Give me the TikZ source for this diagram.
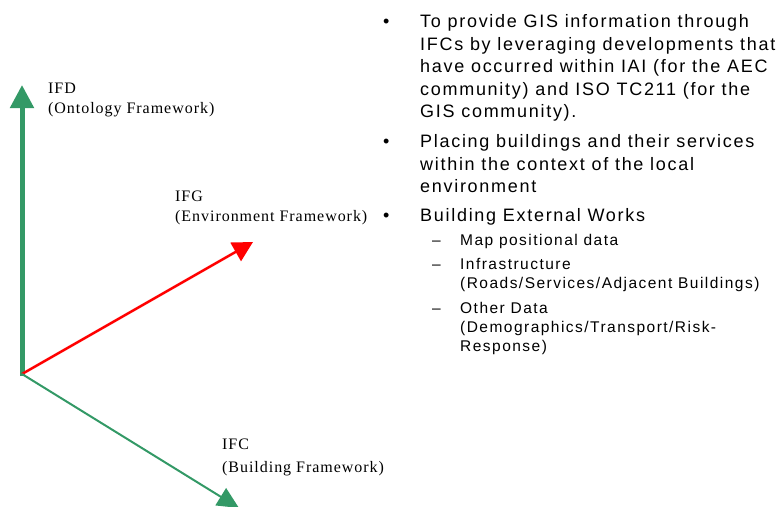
\documentclass[tikz,border=0pt]{standalone}
\usepackage{fontspec}
\setmainfont{Liberation Serif}
\newfontfamily\labelfont[LetterSpace=6]{Liberation Serif}
\newfontfamily\listfont[LetterSpace=9.5]{Liberation Sans}
\newfontfamily\subfont[LetterSpace=9.5]{Liberation Sans}
\usetikzlibrary{arrows.meta}
\definecolor{axisgreen}{RGB}{51,153,102}
\definecolor{axisred}{RGB}{255,0,0}

\tikzset{
  axislabel/.style={anchor=base west, inner sep=0pt, font=\labelfont\fontsize{16}{20}\selectfont},
  listline/.style={anchor=base west, inner sep=0pt, font=\listfont\fontsize{18}{22}\selectfont},
  subline/.style={anchor=base west, inner sep=0pt, font=\subfont\fontsize{15.5}{19}\selectfont},
  bulletmark/.style={anchor=base west, inner sep=0pt, font=\listfont\fontsize{18}{22}\selectfont},
  dashmark/.style={anchor=base west, inner sep=0pt, font=\subfont\fontsize{15.5}{19}\selectfont},
  ontoaxis/.style={draw=axisgreen, line width=5pt, -{Triangle[length=23pt, width=23pt]}},
  envaxis/.style={draw=axisred, line width=2.5pt, -{Triangle[length=20pt, width=21pt]}},
  bldaxis/.style={draw=axisgreen, line width=2pt, -{Triangle[length=21.5pt, width=20pt]}},
}

\begin{document}
\begin{tikzpicture}[x=1pt, y=-1pt]
  \useasboundingbox (0,0) rectangle (779,506);
  \clip (0,0) rectangle (779,506);

  % axes from the common origin
  \coordinate (origin) at (22,374);
  \coordinate (ifdtip) at (22,85);
  \coordinate (ifgtip) at (253,242);
  \coordinate (ifctip) at (239,508);
  \draw[ontoaxis] (22,376) -- (ifdtip);
  \draw[envaxis] (origin) -- (ifgtip);
  \draw[bldaxis] (origin) -- (ifctip);

  % axis labels
  \node[axislabel] (ifd1) at (48,93) {IFD};
  \node[axislabel] (ifd2) at (48,113) {(Ontology Framework)};
  \node[axislabel] (ifg1) at (175,201) {IFG};
  \node[axislabel] (ifg2) at (175,221) {(Environment Framework)};
  \node[axislabel] (ifc1) at (222,449) {IFC};
  \node[axislabel] (ifc2) at (222,472) {(Building Framework)};

  % bullet list
  \node[bulletmark] (bul1) at (383,27.5) {•};
  \node[listline] (a1) at (420,27.5) {To provide GIS information through};
  \node[listline] (a2) at (420,50) {IFCs by leveraging developments that};
  \node[listline] (a3) at (420,72.5) {have occurred within IAI (for the AEC};
  \node[listline] (a4) at (420,95) {community) and ISO TC211 (for the};
  \node[listline] (a5) at (420,117.5) {GIS community).};

  \node[bulletmark] (bul2) at (383,147.5) {•};
  \node[listline] (b1) at (420,147.5) {Placing buildings and their services};
  \node[listline] (b2) at (420,170) {within the context of the local};
  \node[listline] (b3) at (420,192.5) {environment};

  \node[bulletmark] (bul3) at (383,221.5) {•};
  \node[listline] (c1) at (420,221.5) {Building External Works};

  \node[dashmark] (dash1) at (432,245.5) {–};
  \node[subline] (s1) at (460,245.5) {Map positional data};
  \node[dashmark] (dash2) at (432,269.5) {–};
  \node[subline] (s2) at (460,269.5) {Infrastructure};
  \node[subline] (s3) at (460,288.5) {(Roads/Services/Adjacent Buildings)};
  \node[dashmark] (dash3) at (432,313.5) {–};
  \node[subline] (s4) at (460,313.5) {Other Data};
  \node[subline] (s5) at (460,332.5) {(Demographics/Transport/Risk-};
  \node[subline] (s6) at (460,351.5) {Response)};
\end{tikzpicture}
\end{document}
